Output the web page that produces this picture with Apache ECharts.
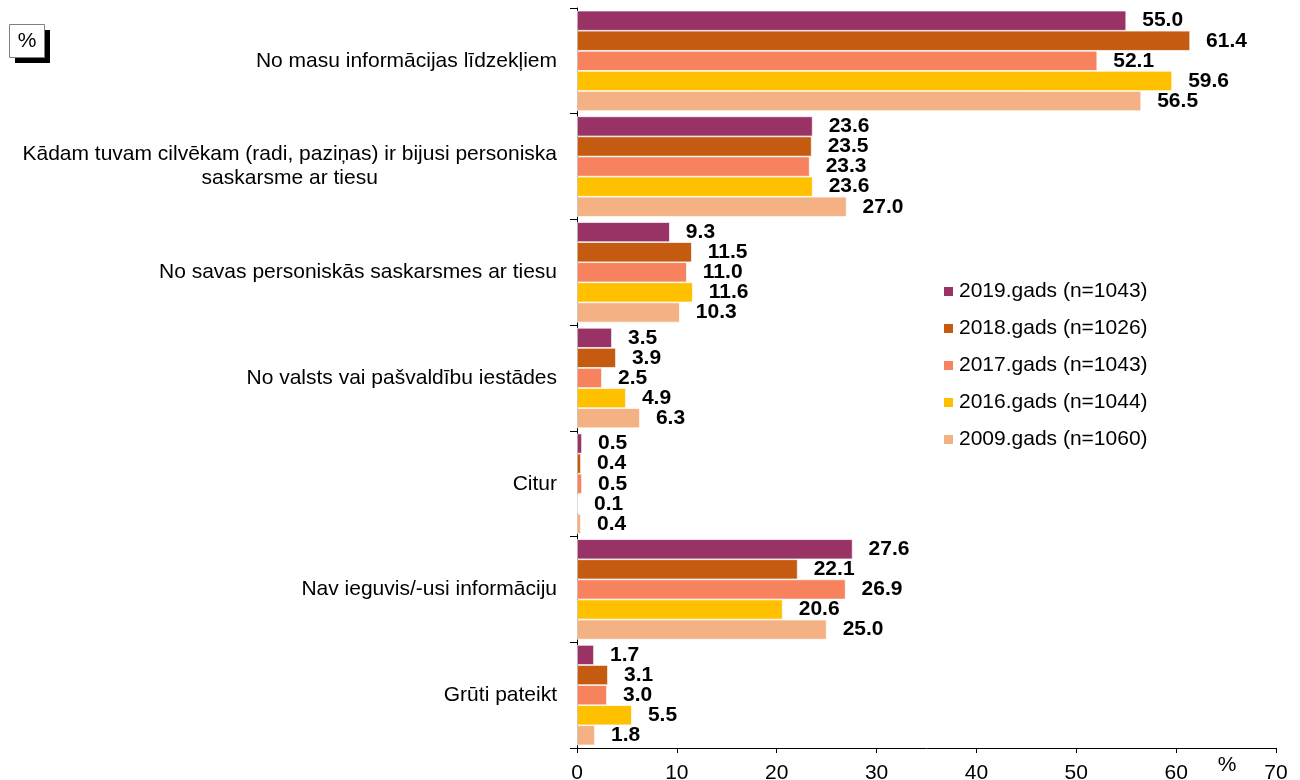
<!DOCTYPE html>
<html>
<head>
<meta charset="utf-8">
<script src="https://cdn.jsdelivr.net/npm/echarts@6/dist/echarts.min.js"></script>
<style>
  html, body { margin: 0; padding: 0; background: #fff; }
  #chart { width: 1300px; height: 780px; }
</style>
</head>
<body>
<div id="chart"></div>
<script>
// atbilžu kategorijas (no augšas uz leju)
var categories = [
  'No masu informācijas līdzekļiem',
  'Kādam tuvam cilvēkam (radi, paziņas) ir bijusi personiska\nsaskarsme ar tiesu',
  'No savas personiskās saskarsmes ar tiesu',
  'No valsts vai pašvaldību iestādes',
  'Citur',
  'Nav ieguvis/-usi informāciju',
  'Grūti pateikt'
];
var seriesNames = ['2019.gads (n=1043)', '2018.gads (n=1026)', '2017.gads (n=1043)', '2016.gads (n=1044)', '2009.gads (n=1060)'];
var values2019 = [55.0, 23.6, 9.3, 3.5, 0.5, 27.6, 1.7];
var values2018 = [61.4, 23.5, 11.5, 3.9, 0.4, 22.1, 3.1];
var values2017 = [52.1, 23.3, 11.0, 2.5, 0.5, 26.9, 3.0];
var values2016 = [59.6, 23.6, 11.6, 4.9, 0.1, 20.6, 5.5];
var values2009 = [56.5, 27.0, 10.3, 6.3, 0.4, 25.0, 1.8];
var colors = ['#993366', '#C55A11', '#F7825E', '#FFC000', '#F4B183'];

var allValues = [values2019, values2018, values2017, values2016, values2009];
var font = 'Arial, "Liberation Sans", sans-serif';

var chart = echarts.init(document.getElementById('chart'));

var series = [];
for (var i = 0; i < seriesNames.length; i++) {
  series.push({
    name: seriesNames[i],
    type: 'bar',
    data: allValues[i],
    barGap: '0%',
    barCategoryGap: '5%',
    itemStyle: { color: colors[i], borderColor: '#ffffff', borderWidth: 0.7 },
    label: {
      show: true,
      position: 'right',
      distance: 16,
      color: '#000',
      fontWeight: 'bold',
      fontSize: 21,
      fontFamily: font,
      formatter: function (p) { return p.value.toFixed(1); }
    }
  });
}

chart.setOption({
  animation: false,
  color: colors,
  grid: { left: 577, right: 24, top: 8, bottom: 32, containLabel: false, outerBoundsMode: 'none' },
  legend: {
    orient: 'vertical',
    left: 937,
    top: 276,
    itemWidth: 11,
    itemHeight: 11,
    itemGap: 16,
    icon: 'rect',
    data: seriesNames,
    textStyle: { fontSize: 21, color: '#000', fontFamily: font }
  },
  xAxis: {
    type: 'value',
    min: 0,
    max: 70,
    interval: 10,
    axisLine: { show: true, lineStyle: { color: '#000', width: 1 } },
    axisTick: { show: true, length: 5, lineStyle: { color: '#000' } },
    splitLine: { show: false },
    axisLabel: { fontSize: 21, color: '#000', fontFamily: font, margin: 15 }
  },
  yAxis: {
    type: 'category',
    inverse: true,
    data: categories,
    axisLine: { show: true, lineStyle: { color: '#000', width: 1 } },
    axisTick: { show: true, length: 7, alignWithLabel: false, lineStyle: { color: '#000' } },
    axisLabel: {
      fontSize: 21,
      color: '#000',
      fontFamily: font,
      margin: 20,
      lineHeight: 24,
      formatter: function (v) { return '{c|' + v.split('\n').join('}\n{c|') + '}'; },
      rich: { c: { align: 'center', fontSize: 21, lineHeight: 24, fontFamily: font, color: '#000' } }
    }
  },
  graphic: [
    { type: 'rect', shape: { x: 15, y: 30, width: 35, height: 33 }, style: { fill: '#000' } },
    { type: 'rect', shape: { x: 9.5, y: 24.5, width: 35, height: 33 }, style: { fill: '#fff', stroke: '#808080', lineWidth: 1 } },
    { type: 'text', x: 27, y: 41, style: { text: '%', fontSize: 21, fontFamily: font, fill: '#000', align: 'center', verticalAlign: 'middle' } },
    { type: 'text', x: 1227, y: 765, style: { text: '%', fontSize: 21, fontFamily: font, fill: '#000', align: 'center', verticalAlign: 'middle' } }
  ],
  series: series
});
</script>
</body>
</html>
